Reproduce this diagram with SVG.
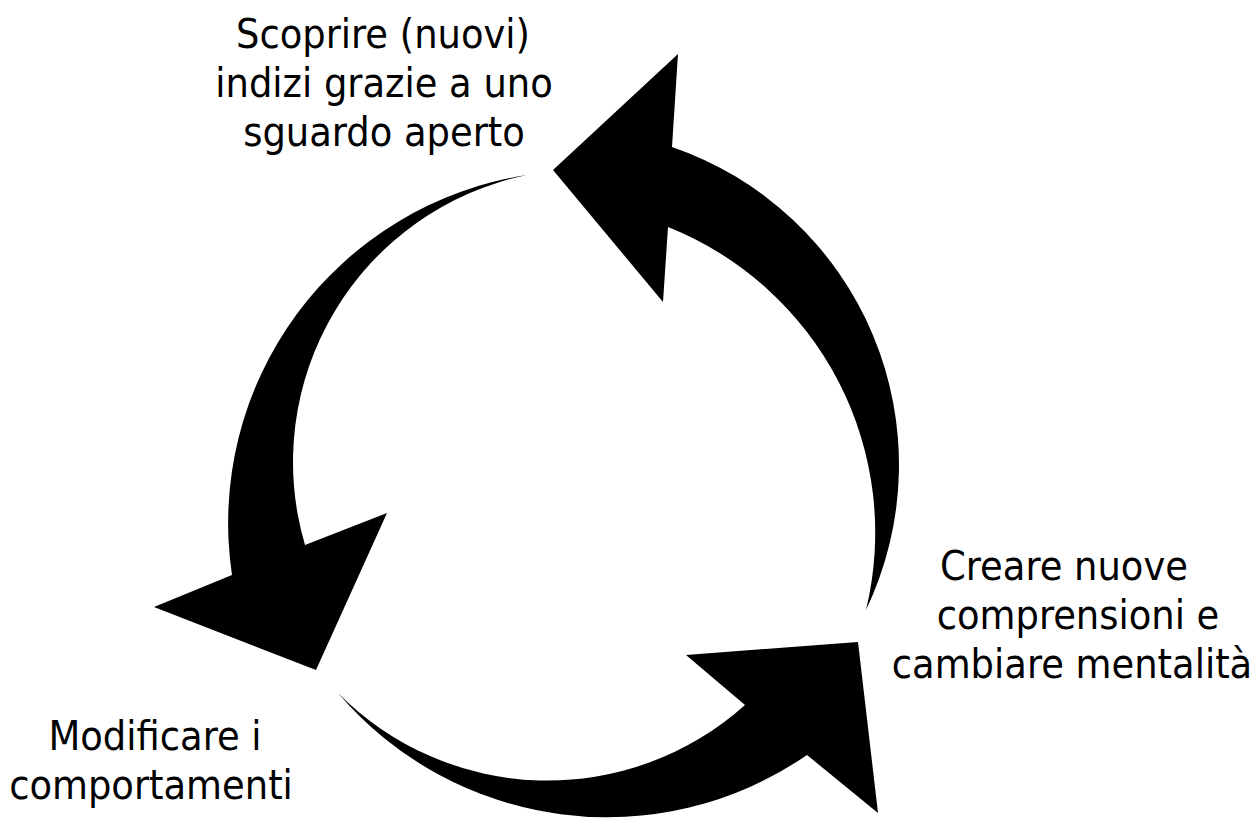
<svg xmlns="http://www.w3.org/2000/svg" width="1253" height="821" viewBox="0 0 1253 821">
<style>
.lbl{font-family:"DejaVu Sans Condensed","DejaVu Sans",sans-serif;font-stretch:condensed;font-size:41px;fill:#000;text-anchor:middle}
.arr{fill:#000;stroke:none}
</style>
<rect x="0" y="0" width="1253" height="821" fill="#fff"/>
<g id="connectors">
<path id="arrow-right" class="arr" d="M 866 610 A 336 336 0 0 0 672 147 L 678 54 L 553 170 L 663 302 L 668 227 A 329 329 0 0 1 866 610 Z"/>
<path id="arrow-left" class="arr" d="M 527 175 A 352 352 0 0 0 232 575 L 154 607 L 316 670 L 387 513 L 305 545 A 293 293 0 0 1 527 175 Z"/>
<path id="arrow-bottom" class="arr" d="M 338 693 A 353 353 0 0 0 807 755 L 878 813 L 858 642 L 686 655 L 745 705 A 295 295 0 0 1 338 693 Z"/>
</g>
<g id="node-top">
<text class="lbl" x="383" y="48">Scoprire (nuovi)</text>
<text class="lbl" x="384" y="97">indizi grazie a uno</text>
<text class="lbl" x="384" y="146">sguardo aperto</text>
</g>
<g id="node-right">
<text class="lbl" x="1064" y="580">Creare nuove</text>
<text class="lbl" x="1078" y="629">comprensioni e</text>
<text class="lbl" x="1072" y="678">cambiare mentalità</text>
</g>
<g id="node-left">
<text class="lbl" x="155" y="750">Modificare i</text>
<text class="lbl" x="151" y="799">comportamenti</text>
</g>
</svg>
